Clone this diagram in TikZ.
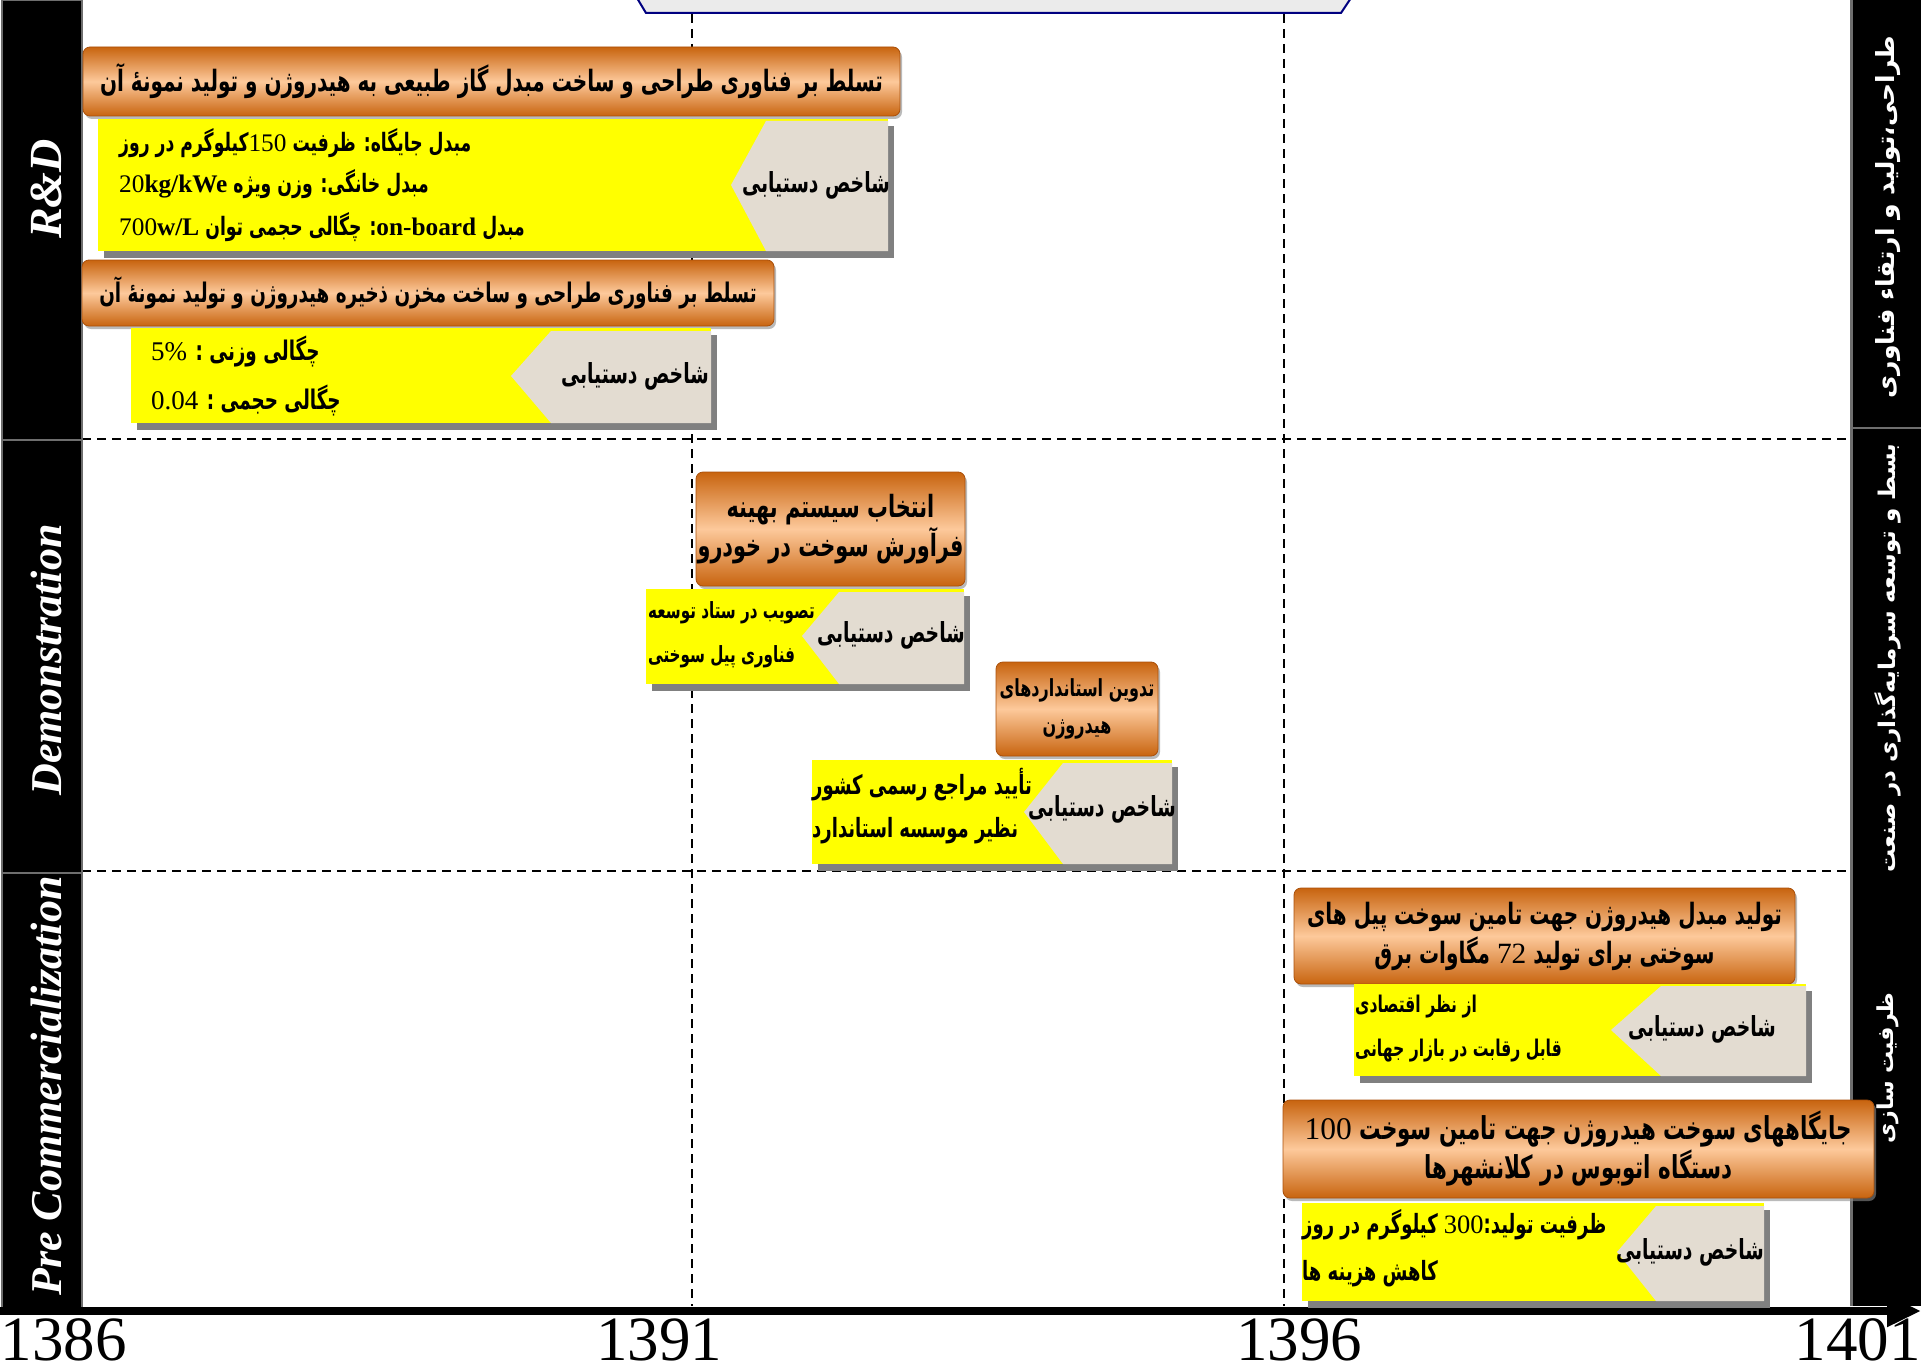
\documentclass[tikz,border=0pt]{standalone}
\usepackage{fontspec}
\usetikzlibrary{fit,arrows.meta,shadows}
\TeXXeTstate=1
\newfontfamily\fa[Script=Arabic,BoldFont={DejaVu Sans Bold},FakeStretch=0.68]{DejaVu Sans}
\newfontfamily\faw[Script=Arabic,BoldFont={DejaVu Sans Bold}]{DejaVu Sans}
\newfontfamily\lat{Liberation Serif}
\newcommand\fsz[1]{\fontsize{#1}{#1}\selectfont}
\newcommand\fszl[1]{\fontsize{#1}{39}\selectfont}
\definecolor{hdark}{RGB}{200,100,15}
\definecolor{hlight}{RGB}{253,201,155}
\definecolor{hborder}{RGB}{170,80,10}
\definecolor{yelc}{RGB}{255,255,0}
\definecolor{beigec}{RGB}{227,220,209}
\definecolor{shadowc}{RGB}{128,128,128}
\definecolor{navyc}{RGB}{0,0,128}
\definecolor{barsep}{RGB}{110,110,110}
\tikzset{
  hdr/.style={inner sep=0pt, rounded corners=7pt, draw=hborder, line width=0.8pt,
    top color=hdark, bottom color=hdark, middle color=hlight, shading=axis,
    drop shadow={shadow xshift=2pt, shadow yshift=-3pt, fill=black!45, opacity=0.6}},
  htxt/.style={inner sep=0pt, align=center, font=\fa\bfseries\fszl{29.4}},
  yel/.style={inner sep=0pt, fill=yelc},
  itxt/.style={anchor=west, inner sep=0pt, font=\fa\bfseries\fsz{25.3}},
  keytxt/.style={anchor=east, inner sep=0pt, font=\fa\bfseries\fsz{27.6}},
  grid/.style={black, line width=1.5pt, dash pattern=on 9pt off 6pt},
  bartxt/.style={rotate=90, text=white, inner sep=0pt},
  yearlab/.style={anchor=base, inner sep=0pt, text depth=0pt, font=\lat\fsz{63}}
}
\begin{document}
\begin{tikzpicture}[x=1pt,y=-1pt]
\useasboundingbox (0,0) rectangle (1921,1370);
% top partial box
\filldraw[fill=black!8, draw=navyc, line width=2pt] (637,-2) -- (646,13) -- (1341,13) -- (1351,-2);
% grid lines
\draw[grid] (692,14) -- (692,1306);
\draw[grid] (1284,14) -- (1284,1306);
\draw[grid] (82,439) -- (1850,439);
\draw[grid] (82,871) -- (1850,871);
% left bar
\filldraw[fill=black, draw=barsep, line width=1.5pt] (2,0) rectangle (82,440);
\filldraw[fill=black, draw=barsep, line width=1.5pt] (2,440) rectangle (82,873);
\filldraw[fill=black, draw=barsep, line width=1.5pt] (2,873) rectangle (82,1308);
\node[bartxt, font=\lat\bfseries\itshape\fsz{46}] (lrd) at (46,189) {R\&D};
\node[bartxt, font=\lat\bfseries\itshape\fsz{44}] (ldemo) at (46,660) {Demonstration};
\node[bartxt, font=\lat\bfseries\itshape\fsz{44}] (lpre) at (46,1086) {Pre Commercialization};
% right bar
\fill[black] (1850,0) rectangle (1921,1306);
\draw[barsep, line width=3pt] (1851,0) -- (1851,1306);
\draw[barsep, line width=1.5pt] (1852,428) -- (1921,428);
\node[bartxt, font=\faw\bfseries\fsz{25}] (r1) at (1888,217) {\beginR طراحی،تولید و ارتقاء فناوری\endR};
\node[bartxt, font=\faw\bfseries\fsz{23}] (r2) at (1888,658) {\beginR بسط و توسعه سرمایه‌گذاری در صنعت\endR};
\node[bartxt, font=\faw\bfseries\fsz{22}] (r3) at (1888,1068) {\beginR ظرفیت سازی\endR};
% axis
\draw[line width=8pt, -{Triangle[length=34pt,width=30pt]}] (0,1311) -- (1921,1311);
\node[yearlab] (y1) at (64,1360) {1386};
\node[yearlab] (y2) at (659,1360) {1391};
\node[yearlab] (y3) at (1299,1360) {1396};
\node[yearlab, anchor=base east] (y4) at (1921,1360) {1401};

% ---------- R&D ----------
\node[hdr, fit={(83,47)(900,116)}] (h1) {};
\node[htxt] (h1t) at (h1.center) {\beginR تسلط بر فناوری طراحی و ساخت مبدل گاز طبیعی به هیدروژن و تولید نمونهٔ آن\endR};
\fill[shadowc] (104,126) rectangle (894,258);
\node[yel, fit={(98,119)(888,251)}] (i1) {};
\node[itxt] (i1a) at (119,143) {\beginR مبدل جایگاه: ظرفیت {\lat\mdseries 150}کیلوگرم در روز\endR};
\node[itxt] (i1b) at (119,184) {\beginR مبدل خانگی: وزن ویژه \beginL{\lat\mdseries 20}{\lat kg/kWe}\endL{}\endR};
\node[itxt] (i1c) at (119,227) {\beginR مبدل {\lat on-board}: چگالی حجمی توان \beginL{\lat\mdseries 700}{\lat w/L}\endL{}\endR};
\fill[beigec] (766,121) -- (888,121) -- (888,251) -- (766,251) -- (731,185) -- cycle;
\node[keytxt] (k1) at (890,185) {\beginR شاخص دستیابی\endR};

\node[hdr, fit={(82,260)(774,326)}] (h2) {};
\node[htxt, font=\fa\bfseries\fsz{27}] (h2t) at (h2.center) {\beginR تسلط بر فناوری طراحی و ساخت مخزن ذخیره هیدروژن و تولید نمونهٔ آن\endR};
\fill[shadowc] (137,335) rectangle (717,430);
\node[yel, fit={(131,328)(711,423)}] (i2) {};
\node[itxt, font=\fa\bfseries\fsz{27}] (i2a) at (151,352) {\beginR چگالی وزنی : {\lat\mdseries 5\%}\endR};
\node[itxt, font=\fa\bfseries\fsz{27}] (i2b) at (151,401) {\beginR چگالی حجمی : {\lat\mdseries 0.04}\endR};
\fill[beigec] (551,331) -- (711,331) -- (711,423) -- (551,423) -- (511,376) -- cycle;
\node[keytxt] (k2) at (709,376) {\beginR شاخص دستیابی\endR};

% ---------- Demonstration ----------
\node[hdr, fit={(696,472)(965,586)}] (h3) {};
\node[htxt, font=\fa\bfseries\fszl{30.6}] (h3t) at (h3.center) {\beginR انتخاب سیستم بهینه\endR\\\beginR فرآورش سوخت در خودرو\endR};
\fill[shadowc] (652,596) rectangle (970,691);
\node[yel, fit={(646,589)(964,684)}] (i3) {};
\node[itxt, font=\fa\bfseries\fsz{22.3}] (i3a) at (648,613) {\beginR تصویب در ستاد توسعه\endR};
\node[itxt, font=\fa\bfseries\fsz{22.3}] (i3b) at (648,657) {\beginR فناوری پیل سوختی\endR};
\fill[beigec] (839,592) -- (964,592) -- (964,684) -- (839,684) -- (802,636) -- cycle;
\node[keytxt] (k3) at (965,635) {\beginR شاخص دستیابی\endR};

\node[hdr, fit={(996,662)(1158,756)}] (h4) {};
\node[htxt, font=\fa\bfseries\fontsize{23.5}{37}\selectfont] (h4t) at (h4.center) {\beginR تدوین استانداردهای\endR\\\beginR هیدروژن\endR};
\fill[shadowc] (818,767) rectangle (1178,871);
\node[yel, fit={(812,760)(1172,864)}] (i4) {};
\node[itxt, font=\fa\bfseries\fsz{26.5}] (i4a) at (812,785) {\beginR تأیید مراجع رسمی کشور\endR};
\node[itxt, font=\fa\bfseries\fsz{26.5}] (i4b) at (812,831) {\beginR نظیر موسسه استاندارد\endR};
\fill[beigec] (1063,763) -- (1172,763) -- (1172,864) -- (1063,864) -- (1024,812) -- cycle;
\node[keytxt] (k4) at (1176,809) {\beginR شاخص دستیابی\endR};

% ---------- Pre Commercialization ----------
\node[hdr, fit={(1294,888)(1795,984)}] (h5) {};
\node[htxt] (h5t) at (h5.center) {\beginR تولید مبدل هیدروژن جهت تامین سوخت پیل های\endR\\\beginR سوختی برای تولید {\lat\mdseries 72} مگاوات برق\endR};
\fill[shadowc] (1360,991) rectangle (1812,1083);
\node[yel, fit={(1354,984)(1806,1076)}] (i5) {};
\node[itxt, font=\fa\bfseries\fsz{23}] (i5a) at (1355,1007) {\beginR از نظر اقتصادی\endR};
\node[itxt, font=\fa\bfseries\fsz{23}] (i5b) at (1355,1051) {\beginR قابل رقابت در بازار جهانی\endR};
\fill[beigec] (1661,986) -- (1806,986) -- (1806,1076) -- (1661,1076) -- (1611,1030) -- cycle;
\node[keytxt] (k5) at (1776,1029) {\beginR شاخص دستیابی\endR};

\node[hdr, fit={(1283,1100)(1874,1198)}] (h6) {};
\node[htxt, font=\fa\bfseries\fszl{31.5}] (h6t) at (h6.center) {\beginR جایگاههای سوخت هیدروژن جهت تامین سوخت {\lat\mdseries 100}\endR\\\beginR دستگاه اتوبوس در کلانشهرها\endR};
\fill[shadowc] (1308,1210) rectangle (1770,1308);
\node[yel, fit={(1302,1203)(1764,1301)}] (i6) {};
\node[itxt, font=\fa\bfseries\fsz{26.5}] (i6a) at (1302,1225) {\beginR ظرفیت تولید:{\lat\mdseries 300} کیلوگرم در روز\endR};
\node[itxt, font=\fa\bfseries\fsz{26.5}] (i6b) at (1302,1274) {\beginR کاهش هزینه ها\endR};
\fill[beigec] (1656,1206) -- (1764,1206) -- (1764,1301) -- (1656,1301) -- (1617,1252) -- cycle;
\node[keytxt] (k6) at (1764,1252) {\beginR شاخص دستیابی\endR};
\end{tikzpicture}
\end{document}
